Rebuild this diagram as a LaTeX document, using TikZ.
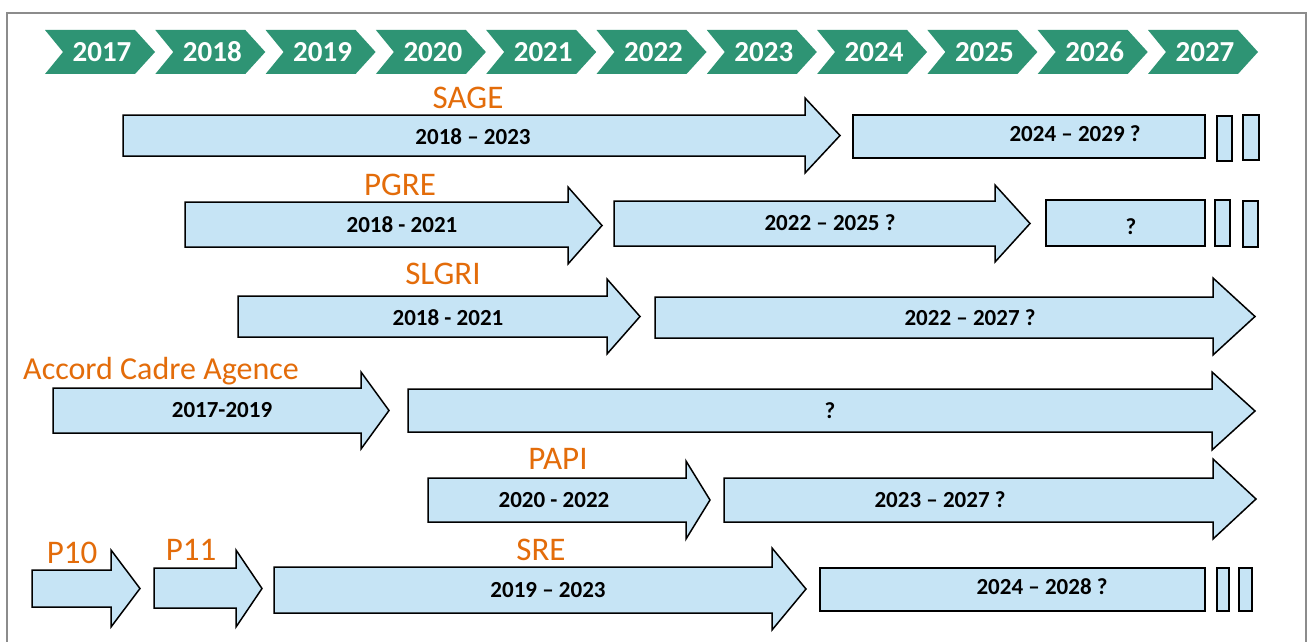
\documentclass[tikz,border=0pt]{standalone}
\usepackage{fontspec}
\setmainfont{Carlito}
\definecolor{chev}{HTML}{2E9474}
\definecolor{boxblue}{HTML}{C6E4F5}
\definecolor{lblorange}{HTML}{E36C0A}
\definecolor{frame}{HTML}{8C8C8C}
\tikzset{
  blk/.style={draw=black, line width=1.5pt, fill=boxblue, line join=miter},
  yeartxt/.style={text=white, font=\fontsize{29}{32}\selectfont\bfseries, inner sep=0pt},
  intxt/.style={text=black, font=\fontsize{23}{26}\selectfont\bfseries, inner sep=0pt},
  lbl/.style={text=lblorange, font=\fontsize{33}{36}\selectfont, inner sep=0pt, anchor=base},
}
% #1 x1, #2 head base x, #3 tip x, #4 body top, #5 body bottom, #6 head top, #7 head bottom
\newcommand\blockarrow[7]{%
  \draw[blk] (#1,#4) -- (#2,#4) -- (#2,#6) -- (#3,{(#6+#7)/2}) -- (#2,#7) -- (#2,#5) -- (#1,#5) -- cycle;}
\begin{document}
\begin{tikzpicture}[x=1pt,y=-1pt]
\useasboundingbox (0,0) rectangle (1310,642);
\fill[white] (0,0) rectangle (1310,642);
\draw[frame, line width=1.6pt] (7,642) -- (7,13) -- (1306,13) -- (1306,642);
% year chevrons
\foreach \i/\yr in {0/2017,1/2018,2/2019,3/2020,4/2021,5/2022,6/2023,7/2024,8/2025,9/2026,10/2027}{
  \pgfmathsetmacro\xo{45+110.3*\i}
  \fill[chev] (\xo,30) -- (\xo+90,30) -- (\xo+110,52) -- (\xo+90,74) -- (\xo,74) -- (\xo+18,52) -- cycle;
  \node[yeartxt] (y\yr) at (\xo+57,52) {\yr};
}
% Row SAGE
\blockarrow{123}{805}{840}{115}{156}{98}{173}
\node[intxt] (sage1) at (473,137) {2018 – 2023};
\draw[blk] (853,115) rectangle (1205,158);
\node[intxt] (sage2) at (1075,134) {2024 – 2029 ?};
\draw[blk] (1217,116) rectangle (1232,161);
\draw[blk] (1243,115) rectangle (1259,160);
\node[lbl] (lsage) at (468,108) {SAGE};
% Row PGRE
\blockarrow{185}{568}{602}{202}{247}{187}{264}
\node[intxt] (pgre1) at (402,225) {2018 - 2021};
\blockarrow{614}{995}{1030}{201}{246}{185}{262}
\node[intxt] (pgre2) at (830,223) {2022 – 2025 ?};
\draw[blk] (1046,200) rectangle (1205,246);
\node[intxt] (pgre3) at (1131,227) {?};
\draw[blk] (1215,200) rectangle (1230,246);
\draw[blk] (1243,201) rectangle (1258,247);
\node[lbl] (lpgre) at (400,195) {PGRE};
% Row SLGRI
\blockarrow{238}{607}{640}{296}{337}{279}{354}
\node[intxt] (slgri1) at (448,318) {2018 - 2021};
\blockarrow{655}{1213}{1255}{297}{338}{278}{355}
\node[intxt] (slgri2) at (970,318) {2022 – 2027 ?};
\node[lbl] (lslgri) at (443,284) {SLGRI};
% Row Accord Cadre Agence
\blockarrow{53}{361}{389}{388}{433}{372}{449}
\node[intxt] (aca1) at (222,410) {2017-2019};
\blockarrow{408}{1212}{1255}{389}{432}{372}{450}
\node[intxt] (aca2) at (830,411) {?};
\node[lbl, font=\fontsize{32}{35}\selectfont] (laca) at (161,379) {Accord Cadre Agence};
% Row PAPI
\blockarrow{428}{686}{710}{478}{522}{461}{539}
\node[intxt] (papi1) at (554,500) {2020 - 2022};
\blockarrow{724}{1213}{1256}{478}{522}{459}{539}
\node[intxt] (papi2) at (940,500) {2023 – 2027 ?};
\node[lbl] (lpapi) at (558,469) {PAPI};
% Row P10 / P11 / SRE
\blockarrow{32}{111}{140}{570}{607}{550}{627}
\node[lbl] (lp10) at (72,563) {P10};
\blockarrow{154}{236}{262}{568}{608}{550}{627}
\node[lbl] (lp11) at (191,560) {P11};
\blockarrow{274}{772}{806}{567}{613}{548}{630}
\node[intxt] (sre1) at (548,590) {2019 – 2023};
\node[lbl] (lsre) at (541,560) {SRE};
\draw[blk] (820,568) rectangle (1205,611);
\node[intxt] (sre2) at (1042,587) {2024 – 2028 ?};
\draw[blk] (1217,568) rectangle (1229,611);
\draw[blk] (1239,568) rectangle (1252,611);
\end{tikzpicture}
\end{document}
